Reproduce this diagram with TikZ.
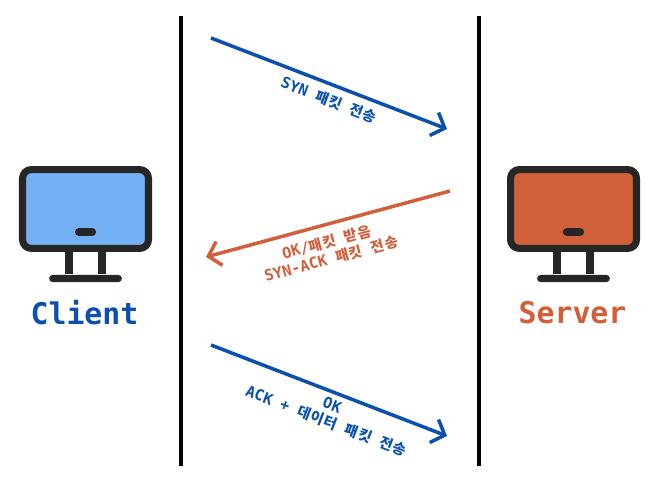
\documentclass[tikz,border=0pt]{standalone}
\usepackage{fontspec}
\setmonofont{DejaVu Sans Mono}
\newfontfamily\cjk[LetterSpace=7]{Noto Sans CJK KR}
\newcommand{\kr}[1]{{\cjk\fontsize{8.2}{9.7}\selectfont #1}}
\usetikzlibrary{arrows.meta,positioning}
\definecolor{cblue}{HTML}{0B50AF}
\definecolor{corange}{HTML}{D1603A}
\definecolor{clight}{HTML}{74B0F4}
\definecolor{cframe}{HTML}{262626}

\begin{document}
\begin{tikzpicture}[
    x=0.02cm, y=-0.02cm,
    lifeline/.style={draw=black, line width=1.8pt},
    packet/.style={-{Straight Barb[length=6.5pt,width=14pt]}, line width=2pt},
    pktlabel/.style={font=\ttfamily\bfseries\fontsize{8.7}{9.7}\selectfont, align=center, inner sep=0pt},
    hostlabel/.style={font=\ttfamily\bfseries\fontsize{17}{20}\selectfont, inner sep=0pt},
    screen/.style={draw=cframe, line width=4pt, rounded corners=5pt, minimum width=71.7pt, minimum height=44.9pt, inner sep=0pt},
    pillbar/.style={fill=cframe, rounded corners=2.2pt, inner sep=0pt, minimum width=12pt, minimum height=4.5pt},
    basebar/.style={fill=cframe, rounded corners=2.2pt, inner sep=0pt, minimum width=41.5pt, minimum height=4.2pt},
    leg/.style={draw=cframe, line width=4.3pt}
]
\useasboundingbox (0,0) rectangle (658,483);

% lifelines
\coordinate (clientTop) at (181,16);
\coordinate (clientBot) at (181,466);
\coordinate (serverTop) at (479,16);
\coordinate (serverBot) at (479,466);
\draw[lifeline] (clientTop) -- (clientBot);
\draw[lifeline] (serverTop) -- (serverBot);

% client
\node[screen, fill=clight] (clientScreen) at (85.5,209) {};
\node[pillbar] (clientPill) at (85.5,232) {};
\node[basebar] (clientBase) at (85.5,278.5) {};
\draw[leg] (clientScreen.south -| 69,0) -- (clientBase.north -| 69,0);
\draw[leg] (clientScreen.south -| 102,0) -- (clientBase.north -| 102,0);
\node[hostlabel, text=cblue] (clientName) at (84.5,312.5) {Client};

% server
\node[screen, fill=corange] (serverScreen) at (573.5,209) {};
\node[pillbar] (serverPill) at (573.5,232) {};
\node[basebar] (serverBase) at (573.5,278.5) {};
\draw[leg] (serverScreen.south -| 557,0) -- (serverBase.north -| 557,0);
\draw[leg] (serverScreen.south -| 590,0) -- (serverBase.north -| 590,0);
\node[hostlabel, text=corange] (serverName) at (572.5,312.5) {Server};

% packets
\coordinate (synStart) at (211,38);
\coordinate (synEnd) at (447,129);
\coordinate (ackStart) at (450,191);
\coordinate (ackEnd) at (206,257);
\coordinate (dataStart) at (211,345);
\coordinate (dataEnd) at (447,436);

\draw[packet, draw=cblue] (synStart) -- (synEnd);
\draw[packet, draw=corange] (ackStart) -- (ackEnd);
\draw[packet, draw=cblue] (dataStart) -- (dataEnd);

\node[pktlabel, text=cblue, rotate=-21] (synText) at (329,100) {SYN \kr{패킷} \kr{전송}};
\node[pktlabel, text=corange, rotate=15] (ackText) at (329,250.5) {OK/\kr{패킷} \kr{받음}\\SYN-ACK \kr{패킷} \kr{전송}};
\node[pktlabel, text=cblue, rotate=-21] (dataText) at (329,413.5) {OK\\ACK + \kr{데이터} \kr{패킷} \kr{전송}};

\end{tikzpicture}
\end{document}
